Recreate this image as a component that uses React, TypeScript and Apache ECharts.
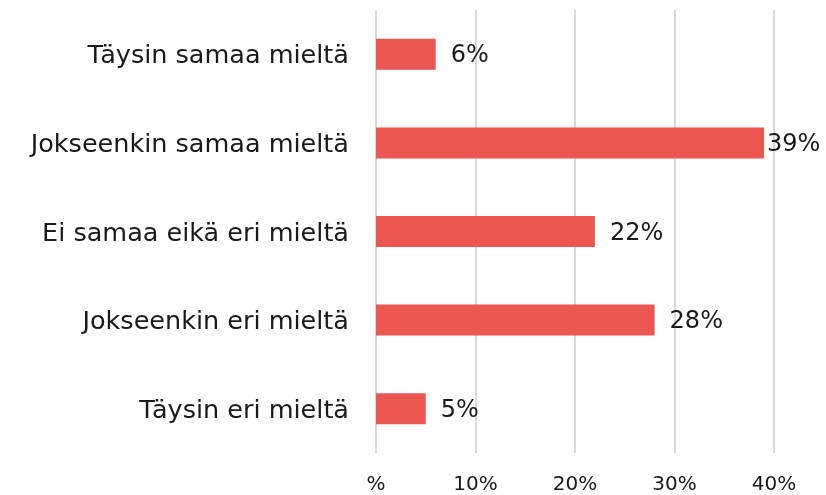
import React, { useEffect, useRef } from "react";
import * as echarts from "echarts";

const categories = [
  "Täysin samaa mieltä",
  "Jokseenkin samaa mieltä",
  "Ei samaa eikä eri mieltä",
  "Jokseenkin eri mieltä",
  "Täysin eri mieltä",
];
const values = [6, 39, 22, 28, 5];
const xTicks = [0, 10, 20, 30, 40];

const FONT = "'DejaVu Sans', sans-serif";

export default function App() {
  const ref = useRef<HTMLDivElement>(null);
  useEffect(() => {
    if (!ref.current) return;
    const chart = echarts.init(ref.current, null, { renderer: "svg" });
    chart.setOption({
      animation: false,
      grid: { left: 376, right: 52, top: 10, bottom: 42, containLabel: false },
      xAxis: {
        type: "value",
        min: xTicks[0],
        max: xTicks[xTicks.length - 1],
        interval: 10,
        axisLine: { show: false },
        axisTick: { show: false },
        splitLine: { lineStyle: { color: "#d9d9d9", width: 2 } },
        axisLabel: {
          formatter: (v: number) => (v === 0 ? "%" : v + "%"),
          fontFamily: FONT,
          fontSize: 20,
          lineHeight: 20,
          color: "#1a1a1a",
          margin: 20,
        },
      },
      yAxis: {
        type: "category",
        data: categories,
        inverse: true,
        axisLine: { show: false },
        axisTick: { show: false },
        axisLabel: {
          fontFamily: FONT,
          fontSize: 25.5,
          color: "#1a1a1a",
          margin: 27,
        },
      },
      series: [
        {
          type: "bar",
          data: values.map((v, i) =>
            i === 1 ? { value: v, label: { distance: 3 } } : v
          ),
          barWidth: 31,
          itemStyle: { color: "#EB5650" },
          label: {
            show: true,
            position: "right",
            distance: 15,
            formatter: "{c}%",
            fontFamily: FONT,
            fontSize: 24,
            color: "#1a1a1a",
          },
        },
      ],
    });
    return () => chart.dispose();
  }, []);
  return (
    <div
      ref={ref}
      style={{ position: "fixed", left: 0, top: 0, width: 826, height: 495 }}
    />
  );
}
